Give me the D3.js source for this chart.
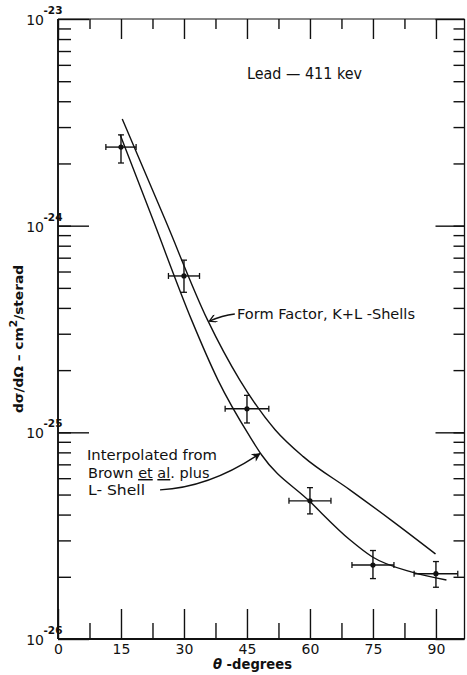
<!DOCTYPE html>
<html>
<head>
<meta charset="utf-8">
<script src="https://cdn.jsdelivr.net/npm/d3@7"></script>
<style>
  body { margin: 0; background: #fff; }
  text { font-family: "DejaVu Sans", sans-serif; fill: #111; }
</style>
</head>
<body>
<div id="graph"></div>
<script>
//constantes
const w = 467;
const h = 675;

// données : points mesurés
const angles = [15, 30, 45, 60, 75, 90];
const sections = [2.40e-24, 5.71e-25, 1.30e-25, 4.66e-26, 2.28e-26, 2.07e-26];
const sectionsHaut = [2.75e-24, 6.81e-25, 1.51e-25, 5.40e-26, 2.68e-26, 2.37e-26];
const sectionsBas = [2.01e-24, 4.76e-25, 1.11e-25, 4.03e-26, 1.96e-26, 1.78e-26];
const erreursAngle = [3.6, 3.7, 5.2, 5.0, 5.0, 5.2];

// courbe "Form Factor, K+L -Shells"
const formTheta = [15.3, 25.5, 35.6, 43.3, 51.7, 58.4, 69.5, 79.8, 89.9];
const formSigma = [3.28e-24, 1.07e-24, 3.50e-25, 1.79e-25, 1.03e-25, 7.63e-26, 5.27e-26, 3.70e-26, 2.58e-26];

// courbe "Interpolated from Brown et al. plus L-Shell"
const interpTheta = [14.8, 22.6, 31.8, 38.1, 45.7, 48.5, 59.8, 69.5, 74.8, 84.5, 92.5];
const interpSigma = [2.75e-24, 1.07e-24, 3.50e-25, 1.79e-25, 9.53e-26, 7.77e-26, 4.66e-26, 3.02e-26, 2.50e-26, 2.10e-26, 1.93e-26];

// graduations
const ticksX = [0, 15, 30, 45, 60, 75, 90];
const ticksXMineurs = [7.5, 22.5, 37.5, 52.5, 67.5, 82.5];
const decades = [1e-26, 1e-25, 1e-24, 1e-23];
const exposants = ["-26", "-25", "-24", "-23"];

//création du svg
const svg = d3.select("#graph")
    .append("svg")
    .attr("width", w)
    .attr("height", h);

//scaling
const xScale = d3.scaleLinear().domain([0, 96.8]).range([58, 464.5]);
const yScale = d3.scaleLog().domain([1e-26, 1e-23]).range([639, 19]);

const mineursY = yScale.ticks().filter(v => decades.indexOf(v) < 0);

// flèches
const defs = svg.append("defs");
defs.append("marker")
    .attr("id", "pleine")
    .attr("viewBox", "0 0 10 10")
    .attr("refX", 9).attr("refY", 5)
    .attr("markerWidth", 11).attr("markerHeight", 9)
    .attr("markerUnits", "userSpaceOnUse")
    .attr("orient", "auto")
    .append("path")
    .attr("d", "M0,0 L10,5 L0,10 L3,5 Z")
    .attr("fill", "#111");
defs.append("marker")
    .attr("id", "ouverte")
    .attr("viewBox", "0 0 10 10")
    .attr("refX", 9).attr("refY", 5)
    .attr("markerWidth", 9).attr("markerHeight", 8)
    .attr("markerUnits", "userSpaceOnUse")
    .attr("orient", "auto")
    .append("path")
    .attr("d", "M1,0 L10,5 L1,10")
    .attr("fill", "none")
    .attr("stroke", "#111")
    .attr("stroke-width", 1.6);

// axes
function styleAxe(g) {
    g.select(".domain").remove();
    g.selectAll(".tick line").attr("stroke", "#111").attr("stroke-width", 1.4);
}

// axe x bas
svg.append("g")
    .attr("transform", "translate(0,639)")
    .call(d3.axisBottom(xScale).tickValues(ticksX).tickSize(-30).tickPadding(5).tickFormat(d3.format("d")))
    .call(styleAxe)
    .call(g => g.selectAll("text").attr("font-size", "14px").attr("font-family", "DejaVu Sans").attr("fill", "#111"));
svg.append("g")
    .attr("transform", "translate(0,639)")
    .call(d3.axisBottom(xScale).tickValues(ticksXMineurs).tickSize(-16).tickFormat(""))
    .call(styleAxe);

// axe x haut
svg.append("g")
    .attr("transform", "translate(0,19)")
    .call(d3.axisTop(xScale).tickValues(ticksX).tickSize(-20).tickFormat(""))
    .call(styleAxe);
svg.append("g")
    .attr("transform", "translate(0,19)")
    .call(d3.axisTop(xScale).tickValues(ticksXMineurs).tickSize(-10).tickFormat(""))
    .call(styleAxe);

// axe y gauche
svg.append("g")
    .attr("transform", "translate(58,0)")
    .call(d3.axisLeft(yScale).tickValues(decades).tickSize(-31).tickFormat(""))
    .call(styleAxe);
svg.append("g")
    .attr("transform", "translate(58,0)")
    .call(d3.axisLeft(yScale).tickValues(mineursY).tickSize(-13).tickFormat(""))
    .call(styleAxe);

// axe y droite
svg.append("g")
    .attr("transform", "translate(464.5,0)")
    .call(d3.axisRight(yScale).tickValues(decades).tickSize(-29).tickFormat(""))
    .call(styleAxe);
svg.append("g")
    .attr("transform", "translate(464.5,0)")
    .call(d3.axisRight(yScale).tickValues(mineursY).tickSize(-11).tickFormat(""))
    .call(styleAxe);

// cadre
const x0 = xScale.range()[0], x1 = xScale.range()[1];
const y0 = yScale.range()[0], y1 = yScale.range()[1];
svg.append("line").attr("x1", x0).attr("x2", x0).attr("y1", y1).attr("y2", y0)
    .attr("stroke", "#111").attr("stroke-width", 1.9);
svg.append("line").attr("x1", x0).attr("x2", x1).attr("y1", y0).attr("y2", y0)
    .attr("stroke", "#111").attr("stroke-width", 1.9);
svg.append("line").attr("x1", x0).attr("x2", x1).attr("y1", y1).attr("y2", y1)
    .attr("stroke", "#111").attr("stroke-width", 1.2);
svg.append("line").attr("x1", x1).attr("x2", x1).attr("y1", y1).attr("y2", y0)
    .attr("stroke", "#111").attr("stroke-width", 1.3);

// étiquettes 10^n
const etiquettes = svg.selectAll(".puissance").data(decades).enter()
    .append("g").attr("class", "puissance");
etiquettes.append("text")
    .attr("x", 44)
    .attr("y", d => yScale(d) + 6)
    .attr("text-anchor", "end")
    .attr("font-size", "14px")
    .text("10");
etiquettes.append("text")
    .attr("x", 43.5)
    .attr("y", d => yScale(d) - 5)
    .attr("font-size", "10.5px")
    .attr("font-weight", "bold")
    .text((d, i) => exposants[i]);

// titres des axes
svg.append("text")
    .attr("x", 213).attr("y", 669)
    .attr("font-size", "14px")
    .attr("font-weight", "bold")
    .attr("textLength", 79)
    .attr("lengthAdjust", "spacingAndGlyphs")
    .html('<tspan font-style="italic">θ</tspan> -degrees');

svg.append("text")
    .attr("transform", "translate(23,339) rotate(-90)")
    .attr("text-anchor", "middle")
    .attr("font-size", "13px")
    .attr("font-weight", "bold")
    .attr("textLength", 148)
    .attr("lengthAdjust", "spacingAndGlyphs")
    .html('dσ/dΩ – cm<tspan font-size="10px" dy="-6">2</tspan><tspan dy="6">/sterad</tspan>');

// courbes
const ligne = d3.line()
    .x(d => xScale(d[0]))
    .y(d => yScale(d[1]))
    .curve(d3.curveMonotoneX);

svg.append("path")
    .attr("d", ligne(formTheta.map((t, i) => [t, formSigma[i]])))
    .attr("fill", "none").attr("stroke", "#111").attr("stroke-width", 1.4);

svg.append("path")
    .attr("d", ligne(interpTheta.map((t, i) => [t, interpSigma[i]])))
    .attr("fill", "none").attr("stroke", "#111").attr("stroke-width", 1.4);

// barres d'erreur
const points = svg.selectAll(".point").data(angles).enter()
    .append("g").attr("class", "point");

points.append("line")
    .attr("x1", (d, i) => xScale(d - erreursAngle[i]))
    .attr("x2", (d, i) => xScale(d + erreursAngle[i]))
    .attr("y1", (d, i) => yScale(sections[i]))
    .attr("y2", (d, i) => yScale(sections[i]))
    .attr("stroke", "#111").attr("stroke-width", 1.4);
points.append("line")
    .attr("x1", d => xScale(d)).attr("x2", d => xScale(d))
    .attr("y1", (d, i) => yScale(sectionsHaut[i]))
    .attr("y2", (d, i) => yScale(sectionsBas[i]))
    .attr("stroke", "#111").attr("stroke-width", 1.4);
// embouts
[-1, 1].forEach(s => {
    points.append("line")
        .attr("x1", (d, i) => xScale(d + s * erreursAngle[i]))
        .attr("x2", (d, i) => xScale(d + s * erreursAngle[i]))
        .attr("y1", (d, i) => yScale(sections[i]) - 3)
        .attr("y2", (d, i) => yScale(sections[i]) + 3)
        .attr("stroke", "#111").attr("stroke-width", 1.3);
});
[sectionsHaut, sectionsBas].forEach(tab => {
    points.append("line")
        .attr("x1", d => xScale(d) - 3)
        .attr("x2", d => xScale(d) + 3)
        .attr("y1", (d, i) => yScale(tab[i]))
        .attr("y2", (d, i) => yScale(tab[i]))
        .attr("stroke", "#111").attr("stroke-width", 1.3);
});
points.append("circle")
    .attr("cx", d => xScale(d))
    .attr("cy", (d, i) => yScale(sections[i]))
    .attr("r", 2.6)
    .attr("fill", "#111");

// annotations
svg.append("text")
    .attr("x", 247).attr("y", 79)
    .attr("font-size", "15px")
    .attr("textLength", 115)
    .attr("lengthAdjust", "spacingAndGlyphs")
    .text("Lead — 411 kev");

svg.append("text")
    .attr("x", 237).attr("y", 319)
    .attr("font-size", "14px")
    .attr("textLength", 178)
    .attr("lengthAdjust", "spacingAndGlyphs")
    .text("Form Factor, K+L -Shells");

const bloc = svg.append("text").attr("font-size", "14.5px");
bloc.append("tspan").attr("x", 87).attr("y", 460)
    .attr("textLength", 130).attr("lengthAdjust", "spacingAndGlyphs")
    .text("Interpolated from");
const l2 = bloc.append("tspan").attr("x", 88).attr("y", 478);
l2.append("tspan").text("Brown ");
l2.append("tspan").attr("text-decoration", "underline").text("et");
l2.append("tspan").text(" ");
l2.append("tspan").attr("text-decoration", "underline").text("al");
l2.append("tspan").text(". plus");
bloc.append("tspan").attr("x", 88).attr("y", 495)
    .attr("textLength", 57).attr("lengthAdjust", "spacingAndGlyphs")
    .text("L- Shell");

// flèche vers la courbe interpolée
const fleche = d3.path();
fleche.moveTo(xScale(24.3), yScale(5.27e-26));
fleche.quadraticCurveTo(xScale(36.2), yScale(5.41e-26), xScale(48.1), yScale(7.9e-26));
svg.append("path")
    .attr("d", fleche.toString())
    .attr("fill", "none").attr("stroke", "#111").attr("stroke-width", 1.4)
    .attr("marker-end", "url(#pleine)");

// flèche vers Form Factor
const fleche2 = d3.path();
fleche2.moveTo(xScale(42.1), yScale(3.74e-25));
fleche2.quadraticCurveTo(xScale(39.0), yScale(3.68e-25), xScale(36.2), yScale(3.46e-25));
svg.append("path")
    .attr("d", fleche2.toString())
    .attr("fill", "none").attr("stroke", "#111").attr("stroke-width", 1.4)
    .attr("marker-end", "url(#ouverte)");
</script>
</body>
</html>
